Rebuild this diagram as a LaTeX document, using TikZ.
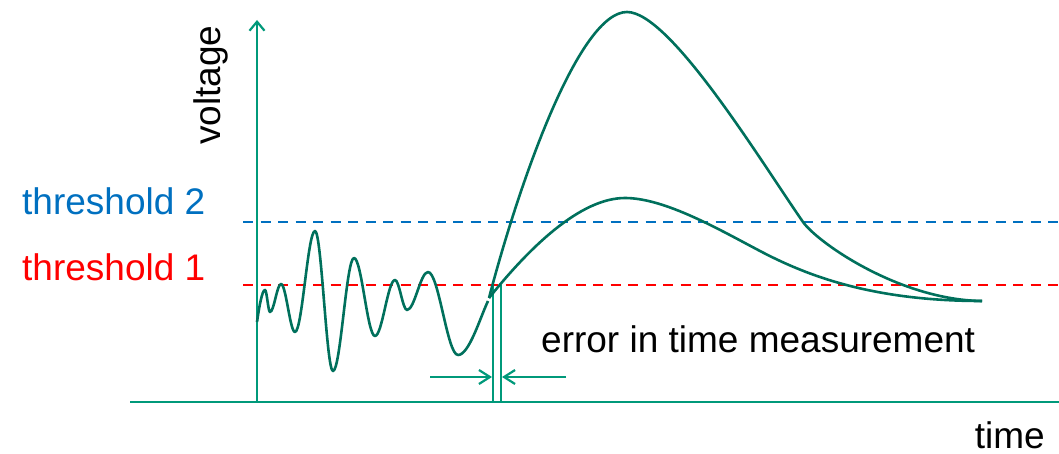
\documentclass[tikz,border=0pt]{standalone}
\usepackage{fontspec}
\setmainfont{Liberation Sans}
\usetikzlibrary{arrows.meta}
\definecolor{axisc}{RGB}{0,153,122}
\definecolor{curvec}{RGB}{0,112,92}
\definecolor{thrblue}{RGB}{0,112,192}
\definecolor{thrred}{RGB}{255,0,0}
\begin{document}
\begin{tikzpicture}[x=1pt,y=-1pt,
  axisline/.style={draw=axisc, line width=2.2pt},
  curve/.style={draw=curvec, line width=2.6pt, line join=round},
  thr/.style={line width=2pt, dash pattern=on 10pt off 7.5pt},
  lbl/.style={inner sep=0pt, font=\fontsize{37}{44}\selectfont},
  bigtip/.style={-{Straight Barb[length=9pt,width=15pt]}},
  smalltip/.style={-{Straight Barb[length=11pt,width=14pt]}}]
\useasboundingbox (0,0) rectangle (1059,454);
% coordinates
\coordinate (xa0) at (130,402);
\coordinate (xa1) at (1059,402);
\coordinate (ya0) at (257,402);
\coordinate (ya1) at (257,20);
\coordinate (b0) at (243,222);
\coordinate (b1) at (1059,222);
\coordinate (r0) at (243,285);
\coordinate (r1) at (1059,285);
\coordinate (v1t) at (493,285);
\coordinate (v1b) at (493,401);
\coordinate (v2t) at (501,285);
\coordinate (v2b) at (501,401);
\coordinate (al) at (430,377);
\coordinate (alt) at (492,377);
\coordinate (ar) at (566,377);
\coordinate (art) at (502,377);
% thresholds
\draw[thr, draw=thrblue] (b0) -- (b1);
\draw[thr, draw=thrred] (r0) -- (r1);
% axes
\draw[axisline] (xa0) -- (xa1);
\draw[axisline, bigtip] (ya0) -- (ya1);
% verticals and arrows
\draw[axisline] (v1t) -- (v1b);
\draw[axisline] (v2t) -- (v2b);
\draw[axisline, smalltip] (al) -- (alt);
\draw[axisline, smalltip] (ar) -- (art);
% noise
\draw[curve] (257,322) .. controls (259,308) and (262,290) .. (265,290)
 .. controls (266.8,290) and (268.2,312) .. (270,312)
 .. controls (274,312) and (277,284) .. (281,284)
 .. controls (286,284) and (290,332) .. (295,332)
 .. controls (302.2,332) and (307.8,231) .. (315,231)
 .. controls (321.5,231) and (326.5,371) .. (333,371)
 .. controls (340.6,371) and (346.4,258) .. (354,258)
 .. controls (361.6,258) and (367.4,336) .. (375,336)
 .. controls (382.2,336) and (387.8,280) .. (395,280)
 .. controls (399.3,280) and (402.7,310) .. (407,310)
 .. controls (414.6,310) and (420.4,272) .. (428,272)
 .. controls (438.8,272) and (447.2,355) .. (458,355)
 .. controls (469,355) and (480,318) .. (488,301);
% big pulse
\draw[curve] (489,298) .. controls (521,176) and (580,12) .. (627,12)
 .. controls (670,12) and (760,160) .. (803,222)
 .. controls (818,243) and (900,300) .. (982,301);
% small pulse
\draw[curve] (489,298) .. controls (529,248) and (580,198) .. (625,198)
 .. controls (665,198) and (720,230) .. (760,251)
 .. controls (805,274.6) and (870,301) .. (982,301);
% labels
\node[lbl, text=thrblue, anchor=base west] (t2) at (22,215) {threshold 2};
\node[lbl, text=thrred, anchor=base west] (t1) at (22,280) {threshold 1};
\node[lbl, rotate=90, anchor=base west] (vlab) at (220,145) {voltage};
\node[lbl, anchor=base west] (err) at (541,352) {error in time measurement};
\node[lbl, anchor=base east] (tm) at (1045,448) {time};
\end{tikzpicture}
\end{document}
